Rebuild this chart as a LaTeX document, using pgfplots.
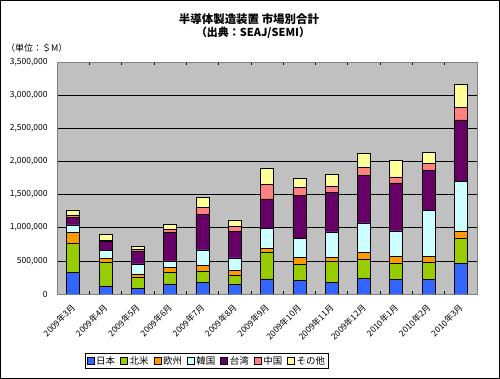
\documentclass[border=0pt]{standalone}
\usepackage{fontspec}
\setmainfont{Noto Sans CJK JP}
\usepackage{pgfplots}
\pgfplotsset{compat=1.18}
\usepackage{pgfplotstable}
\definecolor{cJP}{HTML}{3366FF}
\definecolor{cNA}{HTML}{99CC00}
\definecolor{cEU}{HTML}{FF9900}
\definecolor{cKR}{HTML}{CCFFFF}
\definecolor{cTW}{HTML}{660066}
\definecolor{cCN}{HTML}{FF8080}
\definecolor{cOT}{HTML}{FFFF99}
\definecolor{plotgray}{HTML}{C0C0C0}
\definecolor{framegray}{HTML}{808080}
\pgfplotstableread{
idx JP NA EU KR TW CN OT
0 328000 438000 160000 116000 116000 35000 75000
1 121000 352000 60000 121000 135000 20000 90000
2 81000 171000 50000 151000 196000 30000 45000
3 151000 171000 76000 100000 433000 50000 75000
4 181000 166000 86000 232000 538000 106000 151000
5 141000 146000 65000 192000 398000 80000 96000
6 227000 407000 56000 302000 443000 216000 252000
7 201000 247000 101000 292000 649000 121000 131000
8 176000 317000 61000 383000 599000 85000 187000
9 232000 292000 105000 443000 715000 121000 217000
10 222000 241000 106000 383000 725000 90000 252000
11 222000 251000 96000 690000 604000 106000 171000
12 463000 378000 111000 750000 926000 192000 337000
}\datatable
\pgfplotsset{legimg/.style={legend image code/.code={\draw[##1,draw=black,line width=0.5bp] (0bp,-3.5bp) rectangle (7bp,3.5bp);}}}
\begin{document}
\begin{tikzpicture}
\useasboundingbox (0,0) rectangle (500bp,379bp);
\fill[white] (0,0) rectangle (500bp,379bp);
\begin{axis}[
  at={(57bp,85bp)}, anchor=south west, scale only axis,
  width=420bp, height=232bp,
  ybar stacked, bar width=13bp,
  xmin=-0.5, xmax=12.5, ymin=0, ymax=3500000,
  axis background/.style={fill=plotgray},
  axis line style={draw=framegray, line width=0.8bp},
  ymajorgrids, major grid style={black, line width=0.6bp},
  ytick={0,500000,1000000,1500000,2000000,2500000,3000000,3500000},
  scaled y ticks=false,
  /pgf/number format/assume math mode=true,
  yticklabel style={/pgf/number format/fixed, /pgf/number format/precision=0, /pgf/number format/1000 sep={,}, font=\fontsize{8.5}{10}\selectfont, xshift=-6bp},
  ytick style={draw=none},
  xtick={0,1,2,3,4,5,6,7,8,9,10,11,12},
  xticklabels={2009年3月,2009年4月,2009年5月,2009年6月,2009年7月,2009年8月,2009年9月,2009年10月,2009年11月,2009年12月,2010年1月,2010年2月,2010年3月},
  xticklabel style={rotate=45, anchor=east, font=\fontsize{8.5}{9}\selectfont, xshift=-5bp, yshift=-9bp},
  major x tick style={draw=none},
  minor xtick={0.5,1.5,2.5,3.5,4.5,5.5,6.5,7.5,8.5,9.5,10.5,11.5},
  minor tick length=3bp, tick align=inside,
  minor x tick style={draw=black, line width=0.6bp},
  legend columns=7,
  legend style={at={(0.357,-0.289)}, anchor=center, draw=black, line width=0.6bp, fill=white,
    font=\fontsize{9.5}{11}\selectfont, inner sep=1bp,
    /tikz/every even column/.append style={column sep=3bp}},
]
\addplot[fill=cJP, draw=black, line width=0.5bp, legimg] table[x=idx,y=JP]{\datatable};
\addplot[fill=cNA, draw=black, line width=0.5bp, legimg] table[x=idx,y=NA]{\datatable};
\addplot[fill=cEU, draw=black, line width=0.5bp, legimg] table[x=idx,y=EU]{\datatable};
\addplot[fill=cKR, draw=black, line width=0.5bp, legimg] table[x=idx,y=KR]{\datatable};
\addplot[fill=cTW, draw=black, line width=0.5bp, legimg] table[x=idx,y=TW]{\datatable};
\addplot[fill=cCN, draw=black, line width=0.5bp, legimg] table[x=idx,y=CN]{\datatable};
\addplot[fill=cOT, draw=black, line width=0.5bp, legimg] table[x=idx,y=OT]{\datatable};
\legend{日本,北米,欧州,韓国,台湾,中国,その他}
\end{axis}
\node[font=\fontsize{11.5}{13}\selectfont\bfseries] at (249bp,360bp) {半導体製造装置 市場別合計};
\node[font=\fontsize{11}{13}\selectfont\bfseries] at (253bp,346bp) {（出典：SEAJ/SEMI）};
\node[anchor=west, font=\fontsize{9}{10}\selectfont, inner sep=0pt] at (6bp,331bp) {（単位：＄M）};
\draw[black, line width=1bp] (0.5bp,0.5bp) rectangle (499.5bp,378.5bp);
\end{tikzpicture}
\end{document}
